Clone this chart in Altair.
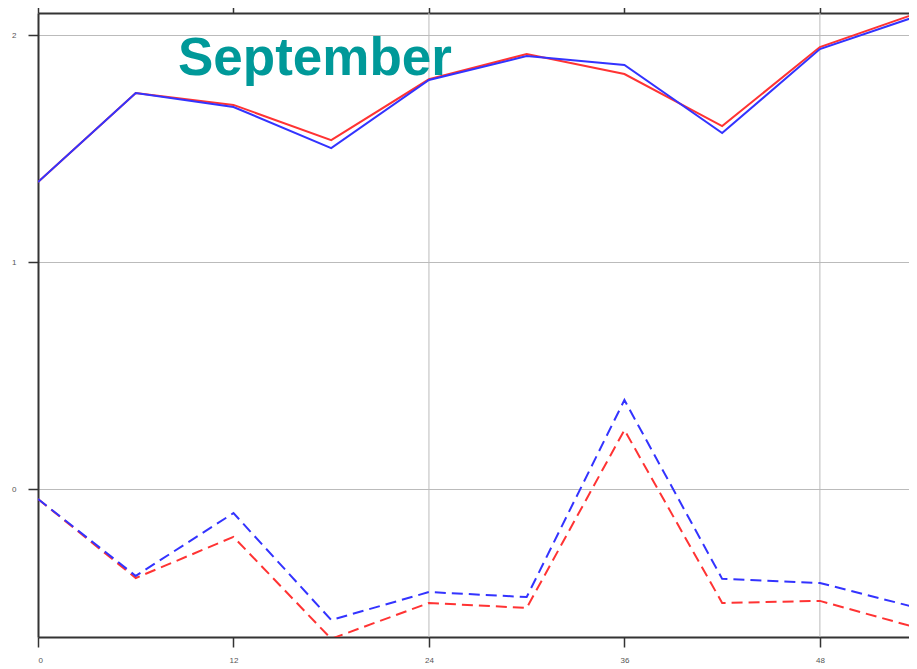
import altair as alt
import pandas as pd

hours = [0, 6, 12, 18, 24, 30, 36, 42, 48, 54]
red_solid = [1.352, 1.744, 1.692, 1.537, 1.805, 1.916, 1.828, 1.599, 1.947, 2.097]
blue_solid = [1.352, 1.744, 1.683, 1.502, 1.802, 1.907, 1.868, 1.568, 1.938, 2.084]
red_dash = [-0.044, -0.392, -0.211, -0.66, -0.502, -0.524, 0.26, -0.502, -0.493, -0.612]
blue_dash = [-0.044, -0.383, -0.106, -0.577, -0.454, -0.476, 0.392, -0.396, -0.414, -0.524]
x_ticks = [0, 12, 24, 36, 48]
y_ticks = [0, 1, 2]
vgrid = [24, 48]
title_text = "September"

rows = []
for name, vals in [("red_solid", red_solid), ("blue_solid", blue_solid),
                   ("red_dash", red_dash), ("blue_dash", blue_dash)]:
    for h, v in zip(hours, vals):
        rows.append({"hour": h, "value": v, "series": name})
df = pd.DataFrame(rows)

# the reference is cut off at the right edge, just before hour 54
xs = alt.Scale(domain=[0, 53.47], nice=False, zero=False)
ys = alt.Scale(domain=[-0.652, 2.097], nice=False, zero=False)

axis_common = dict(
    domainColor="#333333", domainWidth=2, tickColor="#333333", tickWidth=1.5,
    tickSize=10, labelFont="Liberation Sans", labelFontSize=8, labelColor="#555555",
    title=None,
)
yaxis = alt.Axis(values=y_ticks, grid=True, gridColor="#bbbbbb", gridWidth=1,
                 labelPadding=12, **axis_common)

colors = alt.Scale(domain=["red_solid", "blue_solid", "red_dash", "blue_dash"],
                   range=["#ff3333", "#3333ff", "#ff3333", "#3333ff"])

vg = alt.Chart(pd.DataFrame({"hour": vgrid})).mark_rule(
    color="#bbbbbb", strokeWidth=1
).encode(x=alt.X("hour:Q", scale=xs, axis=None))

solid = alt.Chart(df).transform_filter(
    alt.FieldOneOfPredicate(field="series", oneOf=["red_solid", "blue_solid"])
).mark_line(strokeWidth=2, clip=True).encode(
    x=alt.X("hour:Q", scale=xs,
            axis=alt.Axis(orient="bottom", values=x_ticks, grid=False, labelPadding=9,
                          **axis_common)),
    y=alt.Y("value:Q", scale=ys, axis=yaxis),
    color=alt.Color("series:N", scale=colors, legend=None),
    order=alt.Order("hour:Q"),
)

dashed = alt.Chart(df).transform_filter(
    alt.FieldOneOfPredicate(field="series", oneOf=["red_dash", "blue_dash"])
).mark_line(strokeWidth=2, strokeDash=[11, 6], clip=True).encode(
    x=alt.X("hour:Q", scale=xs, axis=None),
    y=alt.Y("value:Q", scale=ys, axis=yaxis),
    color=alt.Color("series:N", scale=colors, legend=None),
    order=alt.Order("hour:Q"),
)

top_axis = alt.Chart(pd.DataFrame({"hour": x_ticks})).mark_tick(opacity=0).encode(
    x=alt.X("hour:Q", scale=xs,
            axis=alt.Axis(orient="top", values=x_ticks, labels=False, grid=False,
                          **axis_common)),
    y=alt.value(0),
)

title = alt.Chart(pd.DataFrame({"t": [title_text]})).mark_text(
    font="Liberation Sans", fontSize=53, fontWeight="bold", color="#009999",
    align="left", baseline="alphabetic",
).encode(text="t:N", x=alt.value(140), y=alt.value(62))

chart = alt.layer(vg, solid, dashed, top_axis, title).resolve_axis(
    x="independent"
).properties(
    width=871, height=624,
    autosize=alt.AutoSizeParams(type="none"),
    padding={"left": 30, "top": 5, "right": 0, "bottom": 30},
).configure_view(stroke=None).configure(background="white")

chart.save("out.html", embed_options={"renderer": "svg", "actions": False})
